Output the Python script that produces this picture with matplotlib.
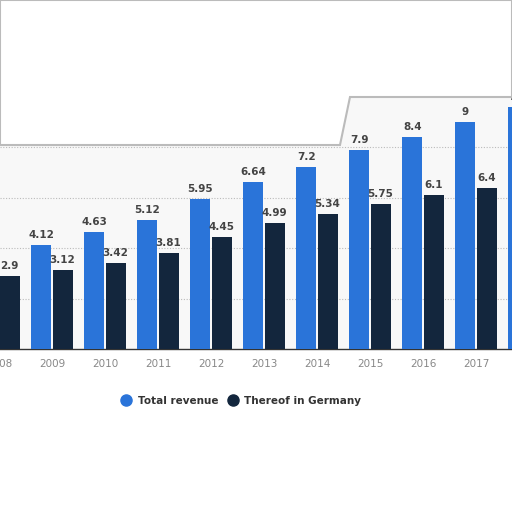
import numpy as np
import matplotlib
matplotlib.use('Agg')
import matplotlib.pyplot as plt
from matplotlib.patches import Polygon
from matplotlib.lines import Line2D

years = ['2008', '2009', '2010', '2011', '2012', '2013', '2014', '2015', '2016', '2017', '2018']
total = [3.7, 4.12, 4.63, 5.12, 5.95, 6.64, 7.2, 7.9, 8.4, 9, 9.6]
germany = [2.9, 3.12, 3.42, 3.81, 4.45, 4.99, 5.34, 5.75, 6.1, 6.4, 6.8]
total_lbl = ['3.7', '4.12', '4.63', '5.12', '5.95', '6.64', '7.2', '7.9', '8.4', '9', '9.6']
germany_lbl = ['2.9', '3.12', '3.42', '3.81', '4.45', '4.99', '5.34', '5.75', '6.1', '6.4', '6.8']

blue = '#2a74d9'
navy = '#13263d'

fig = plt.figure(figsize=(5.12, 5.12), dpi=100)
ax = fig.add_axes([0, 0.318, 1, 0.493])
ax.set_facecolor('#f8f8f8')

x = np.arange(len(years))
w = 0.377
off = 0.2
ax.bar(x - off, total, w, color=blue, zorder=3)
ax.bar(x + off, germany, w, color=navy, zorder=3)
for i in range(len(years)):
    ax.text(x[i] - off, total[i] + 0.2, total_lbl[i], ha='center', va='bottom',
            fontsize=7.5, fontweight='bold', color='#444444', zorder=4)
    ax.text(x[i] + off, germany[i] + 0.2, germany_lbl[i], ha='center', va='bottom',
            fontsize=7.5, fontweight='bold', color='#444444', zorder=4)

ax.set_yticks([2, 4, 6, 8])
ax.yaxis.grid(True, linestyle=(0, (1, 1.5)), color='#bbbbbb', linewidth=0.8)
ax.tick_params(axis='y', left=False, labelleft=False)
ax.set_xticks(x[1:-1])
ax.set_xticklabels(years[1:-1], fontsize=7.5, color='#888888')
ax.tick_params(axis='x', length=0, pad=7)
# first year sits half outside the picture
ax.annotate(years[0], xy=(x[0], 0), xycoords='data', xytext=(0, -7.3),
            textcoords='offset points', ha='center', va='top',
            fontsize=7.5, color='#888888', annotation_clip=False)
ax.set_xlim(0.019, 9.68)
ax.set_ylim(0, 10)
for s in ['top', 'right', 'left']:
    ax.spines[s].set_visible(False)
ax.spines['bottom'].set_color('#333333')
ax.spines['bottom'].set_linewidth(1.0)

# torn edge: blank out the top-left part of the panel
fig.patches.append(Polygon([[0, 512 - 145], [340, 512 - 145], [350, 512 - 97], [512, 512 - 97],
                            [512, 512], [0, 512]], closed=True, transform=None,
                           facecolor='white', edgecolor='#bbbbbb', linewidth=1.5, zorder=10))

handles = [Line2D([], [], marker='o', linestyle='', color=blue, markersize=8),
           Line2D([], [], marker='o', linestyle='', color=navy, markersize=8)]
fig.legend(handles, ['Total revenue', 'Thereof in Germany'], loc='center',
           bbox_to_anchor=(0.47, 1 - 401 / 512), ncol=2, frameon=False,
           handletextpad=0.5, columnspacing=0.8, handlelength=1.2,
           prop={'weight': 'semibold', 'size': 7.5})
for t in fig.legends[0].get_texts():
    t.set_color('#333333')

fig.savefig('out.png', dpi=100)
